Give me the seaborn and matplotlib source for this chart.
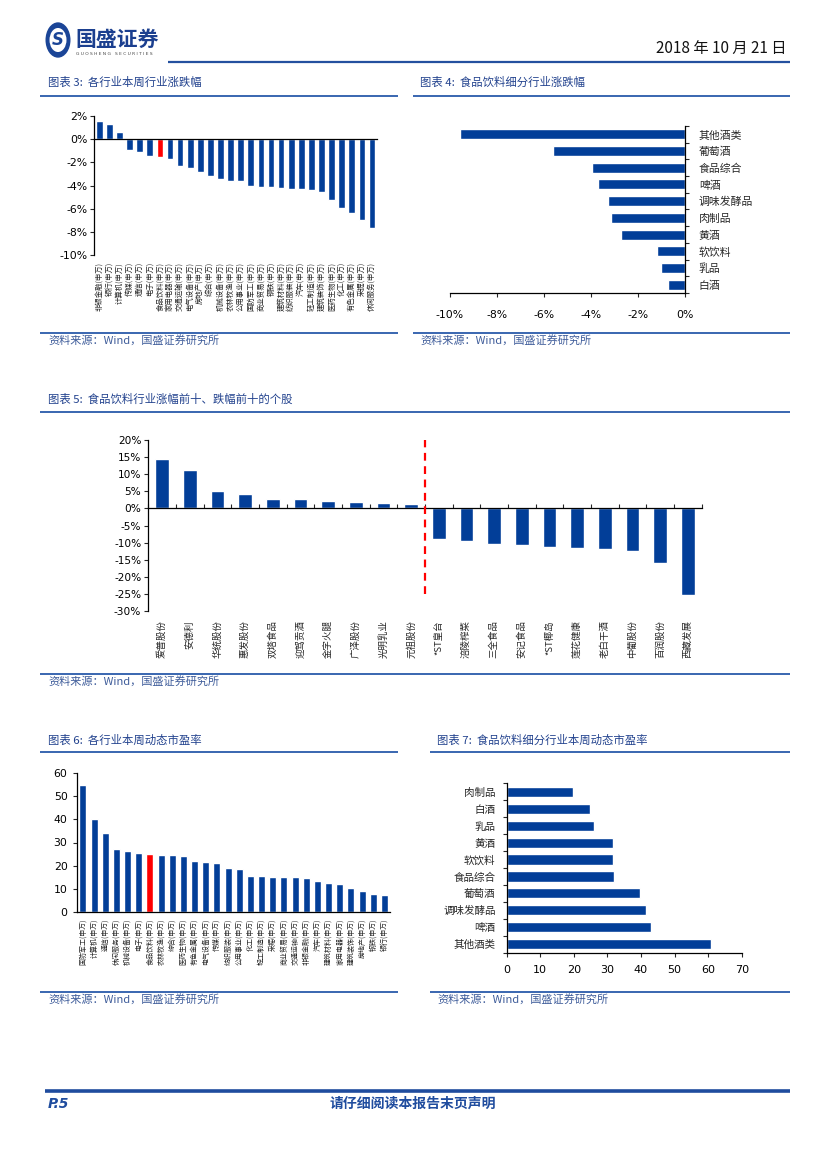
import matplotlib
matplotlib.use('Agg')
import matplotlib.pyplot as plt
import seaborn as sns
import numpy as np
from matplotlib.ticker import FuncFormatter, FixedLocator, MultipleLocator
from matplotlib.patches import Circle
from matplotlib.lines import Line2D

# ---------------- data ----------------
ind3_names = ['非银金融', '银行', '计算机', '传媒', '通信', '电子', '食品饮料', '家用电器',
              '交通运输', '电气设备', '房地产', '综合', '机械设备', '农林牧渔', '公用事业',
              '国防军工', '商业贸易', '钢铁', '建筑材料', '纺织服装', '汽车', '轻工制造',
              '建筑装饰', '医药生物', '化工', '有色金属', '采掘', '休闲服务']
ind3_chg = [1.57, 1.34, 0.63, -0.94, -1.14, -1.43, -1.51, -1.69, -2.31, -2.46, -2.86, -3.17,
            -3.46, -3.60, -3.62, -4.06, -4.11, -4.17, -4.23, -4.30, -4.32, -4.40, -4.57,
            -5.29, -5.94, -6.37, -6.94, -7.71]

sub4_names = ['其他酒类', '葡萄酒', '食品综合', '啤酒', '调味发酵品', '肉制品', '黄酒',
              '软饮料', '乳品', '白酒']
sub4_chg = [-9.57, -5.60, -3.94, -3.70, -3.29, -3.15, -2.74, -1.18, -1.04, -0.71]

stk_names = ['爱普股份', '安德利', '华统股份', '惠发股份', '双塔食品', '迎驾贡酒', '金字火腿',
             '广泽股份', '光明乳业', '元祖股份', '*ST皇台', '涪陵榨菜', '三全食品', '安记食品',
             '*ST椰岛', '莲花健康', '老白干酒', '中葡股份', '百润股份', '西藏发展']
stk_chg = [14.5, 11.3, 5.1, 4.1, 2.9, 2.9, 2.1, 1.8, 1.6, 1.4,
           -8.9, -9.5, -10.4, -10.8, -11.4, -11.6, -11.8, -12.4, -15.9, -25.4]
n_top = 10

ind6_names = ['国防军工', '计算机', '通信', '休闲服务', '机械设备', '电子', '食品饮料', '农林牧渔',
              '综合', '医药生物', '有色金属', '电气设备', '传媒', '纺织服装', '公用事业', '化工',
              '轻工制造', '采掘', '商业贸易', '交通运输', '非银金融', '汽车', '建筑材料',
              '家用电器', '建筑装饰', '房地产', '钢铁', '银行']
ind6_pe = [54.9, 40.2, 34.3, 27.2, 26.3, 25.3, 25.0, 24.6, 24.6, 24.3, 21.9, 21.6, 21.2, 19.1,
           18.5, 15.3, 15.3, 15.0, 15.0, 15.0, 14.6, 13.4, 12.4, 12.1, 10.4, 8.8, 7.5, 7.2]

sub7_names = ['肉制品', '白酒', '乳品', '黄酒', '软饮料', '食品综合', '葡萄酒', '调味发酵品',
              '啤酒', '其他酒类']
sub7_pe = [19.6, 24.9, 26.1, 31.7, 31.7, 32.0, 39.7, 41.6, 43.1, 60.9]

highlight = '食品饮料'
sw_suffix = '(申万)'

titles = ['图表 3:  各行业本周行业涨跌幅', '图表 4:  食品饮料细分行业涨跌幅',
          '图表 5:  食品饮料行业涨幅前十、跌幅前十的个股',
          '图表 6:  各行业本周动态市盈率', '图表 7:  食品饮料细分行业本周动态市盈率']
source = '资料来源：Wind，国盛证券研究所'

# ---------------- style ----------------
sns.set_style('ticks')
CJK = ['Noto Sans CJK SC', 'DejaVu Sans']
plt.rcParams['font.family'] = CJK
plt.rcParams['axes.unicode_minus'] = False

BLUE = '#023E98'
RED = '#FF0000'
LINE = '#2A5AAA'
TITLE_C = '#22428E'
SRC_C = '#3E5C9A'
NUMF = 'DejaVu Sans'

W, H = 827, 1170
fig = plt.figure(figsize=(W / 100, H / 100), dpi=100)


def rect(l, t, r, b):
    return [l / W, 1 - b / H, (r - l) / W, (b - t) / H]


def hline(x0, x1, y, lw=1.3, color=LINE):
    fig.add_artist(Line2D([x0 / W, x1 / W], [1 - y / H, 1 - y / H], color=color, lw=lw,
                          transform=fig.transFigure, solid_capstyle='butt'))


def ftext(x, y, s, **kw):
    return fig.text(x / W, 1 - y / H, s, **kw)


pct = FuncFormatter(lambda v, p: f'{v:.0f}%')


def style_numticks(ax, axis, size):
    labs = ax.get_xticklabels() if axis == 'x' else ax.get_yticklabels()
    for t in labs:
        t.set_fontfamily(NUMF)
        t.set_fontsize(size)
        t.set_color('black')


def spines(ax, show):
    for k, s in ax.spines.items():
        s.set_visible(k in show)
        s.set_color('black')
        s.set_linewidth(0.9)


# ---------------- header / footer ----------------
fig.add_artist(Circle((58 / W, 1 - 40 / H), 12.5 / W, transform=fig.transFigure,
                      facecolor='#1B4597', edgecolor='none'))
fig.add_artist(Circle((58 / W, 1 - 40 / H), 8.5 / W, transform=fig.transFigure,
                      facecolor='white', edgecolor='none'))
ftext(58, 40, 'S', fontsize=12, fontweight='bold', color='#1B4597', ha='center', va='center',
      family=NUMF, style='italic')
ftext(75, 39, '国盛证券', fontsize=15, fontweight='bold', color='#1B3F8F', va='center')
ftext(76, 54, 'G U O S H E N G   S E C U R I T I E S', fontsize=3.2, color='#444444', va='center',
      family=NUMF)
ftext(786, 48, '2018 年 10 月 21 日', fontsize=11, color='#111111', ha='right', va='center')
hline(168, 790, 62, lw=1.6, color='#24509F')

hline(45, 790, 1091, lw=2.6, color='#1F4C9E')
ftext(48, 1104, 'P.5', fontsize=10, fontweight='bold', style='italic', color='#1F4C9E',
      family=NUMF, va='center')
ftext(413, 1104, '请仔细阅读本报告末页声明', fontsize=10, fontweight='bold', color='#1F4C9E',
      ha='center', va='center')

# titles + rules
panel_title = [(48, 82, 40, 398, 96), (420, 82, 413, 790, 96), (48, 399, 40, 790, 412),
               (48, 740, 40, 398, 752), (437, 740, 430, 790, 752)]
for (tx, ty, x0, x1, ly), t in zip(panel_title, titles):
    ftext(tx, ty, t, fontsize=8.2, color=TITLE_C, va='center')
    hline(x0, x1, ly)

src_pos = [(48, 340, 40, 398, 333), (420, 340, 413, 790, 333), (48, 681, 40, 790, 674),
           (48, 999, 40, 398, 992), (437, 999, 430, 790, 992)]
for tx, ty, x0, x1, ly in src_pos:
    ftext(tx, ty, source, fontsize=8, color=SRC_C, va='center')
    hline(x0, x1, ly)

# ---------------- chart 3 ----------------
ax = fig.add_axes(rect(94.3, 116, 377, 255))
cols3 = [RED if n == highlight else BLUE for n in ind3_names]
sns.barplot(x=ind3_names, y=ind3_chg, hue=ind3_names, palette=cols3, legend=False,
            saturation=1, width=0.66, ax=ax)
ax.set_xlim(-0.5, len(ind3_names) - 0.5)
ax.set_ylim(-10, 2)
ax.yaxis.set_major_locator(MultipleLocator(2))
ax.yaxis.set_major_formatter(pct)
spines(ax, ['left', 'bottom'])
ax.spines['bottom'].set_position(('data', 0))
ax.tick_params(axis='x', length=0, labelbottom=False)
ax.tick_params(axis='y', length=3, width=0.8, direction='out', pad=2)
style_numticks(ax, 'y', 7.8)
sec = ax.secondary_xaxis('bottom')
sec.set_xticks(range(len(ind3_names)))
sec.set_xticklabels([n + sw_suffix for n in ind3_names], rotation=90, fontsize=5.3)
sec.tick_params(length=0, pad=5)
sec.spines['bottom'].set_visible(False)
ax.set_xlabel('')

# ---------------- chart 4 ----------------
ax = fig.add_axes(rect(450, 126, 685, 293))
sns.barplot(x=sub4_chg, y=sub4_names, orient='h', color=BLUE, saturation=1, width=0.6, ax=ax)
ax.set_xlim(-10, 0)
ax.set_ylim(len(sub4_names) - 0.5, -0.5)
ax.xaxis.set_major_locator(MultipleLocator(2))
ax.xaxis.set_major_formatter(pct)
spines(ax, ['right', 'bottom'])
ax.yaxis.tick_right()
ax.yaxis.set_minor_locator(FixedLocator(np.arange(-0.5, len(sub4_names), 1)))
ax.tick_params(axis='y', which='major', length=0, pad=10, labelsize=7.8)
ax.tick_params(axis='y', which='minor', length=3, width=0.8, direction='out', right=True, left=False)
ax.tick_params(axis='x', length=3, width=0.8, direction='out', pad=9)
style_numticks(ax, 'x', 7.8)

# ---------------- chart 5 ----------------
ax = fig.add_axes(rect(148.3, 440.3, 701.7, 610.7))
sns.barplot(x=stk_names, y=stk_chg, color=BLUE, saturation=1, width=0.5, ax=ax)
ax.vlines(n_top - 0.5, -25, 20.5, colors=RED, linestyles=(0, (3.5, 2.5)), lw=1.6, zorder=5)
ax.set_xlim(-0.5, len(stk_names) - 0.5)
ax.set_ylim(-30, 20)
ax.yaxis.set_major_locator(MultipleLocator(5))
ax.yaxis.set_major_formatter(pct)
spines(ax, ['left', 'bottom'])
ax.spines['bottom'].set_position(('data', 0))
ax.xaxis.set_minor_locator(FixedLocator(np.arange(-0.5, len(stk_names) + 0.5, 1)))
ax.tick_params(axis='x', which='major', length=0, labelbottom=False)
ax.tick_params(axis='x', which='minor', length=3, width=0.8, direction='in', bottom=True)
ax.tick_params(axis='y', length=3, width=0.8, direction='out', pad=2)
style_numticks(ax, 'y', 7.6)
sec = ax.secondary_xaxis('bottom')
sec.set_xticks(range(len(stk_names)))
sec.set_xticklabels(stk_names, rotation=90, fontsize=6.8)
sec.tick_params(length=0, pad=7)
sec.spines['bottom'].set_visible(False)
for t in sec.get_xticklabels():
    t.set_fontfamily(CJK)

# ---------------- chart 6 ----------------
ax = fig.add_axes(rect(77.3, 773.3, 390, 911.7))
cols6 = [RED if n == highlight else BLUE for n in ind6_names]
sns.barplot(x=[n + sw_suffix for n in ind6_names], y=ind6_pe,
            hue=[n + sw_suffix for n in ind6_names], palette=cols6, legend=False,
            saturation=1, width=0.62, ax=ax)
ax.set_xlim(-0.5, len(ind6_names) - 0.5)
ax.set_ylim(0, 60)
ax.yaxis.set_major_locator(MultipleLocator(10))
spines(ax, ['left', 'bottom'])
ax.tick_params(axis='x', length=0, rotation=90, labelsize=5.0, pad=5)
ax.tick_params(axis='y', length=3, width=0.8, direction='out', pad=4)
style_numticks(ax, 'y', 7.8)

# ---------------- chart 7 ----------------
ax = fig.add_axes(rect(506.7, 783.3, 741.7, 952.7))
sns.barplot(x=sub7_pe, y=sub7_names, orient='h', color=BLUE, saturation=1, width=0.6, ax=ax)
ax.set_xlim(0, 70)
ax.set_ylim(len(sub7_names) - 0.5, -0.5)
ax.xaxis.set_major_locator(MultipleLocator(10))
spines(ax, ['left', 'bottom'])
ax.yaxis.set_minor_locator(FixedLocator(np.arange(-0.5, len(sub7_names), 1)))
ax.tick_params(axis='y', which='major', length=0, pad=8, labelsize=7.6)
ax.tick_params(axis='y', which='minor', length=3, width=0.8, direction='out', left=True)
ax.tick_params(axis='x', length=3, width=0.8, direction='out', pad=6)
style_numticks(ax, 'x', 8.0)

for a in fig.axes:
    a.set_xlabel('')
    a.set_ylabel('')

fig.savefig('out.png', dpi=100, facecolor='white')
